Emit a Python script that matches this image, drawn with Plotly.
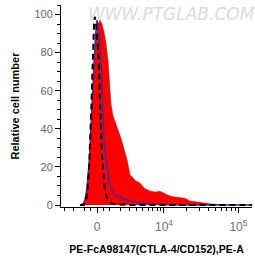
import math
import plotly.graph_objects as go

# ---- data (x in display units of a biexponential-like axis, y in % of max) ----
red_x = [-0.187, -0.160, -0.133, -0.120, -0.093, -0.067, -0.040, -0.013, 0.013, 0.040,
         0.067, 0.093, 0.120, 0.147, 0.173, 0.187, 0.213, 0.253, 0.293, 0.320,
         0.360, 0.400, 0.440, 0.507, 0.573, 0.640, 0.707, 0.773, 0.840, 0.907,
         0.973, 1.040, 1.107, 1.173, 1.240, 1.307, 1.373, 1.440, 1.507, 1.573,
         1.640, 1.707]
red_y = [0, 3, 8, 14, 29, 52, 76, 90, 95, 97,
         95, 91, 85, 76, 63, 53, 47, 43, 38, 35,
         29, 24, 16, 13, 11.5, 8.5, 7.4, 6.8, 7.2, 5.8,
         4.7, 4.2, 3.7, 3.5, 2.1, 1.6, 1.5, 1.0, 0.6, 0.3,
         0.1, 0]

blue_x = [-0.227, -0.187, -0.160, -0.133, -0.097, -0.067, -0.040, -0.020, 0.0, 0.027,
          0.053, 0.080, 0.093, 0.120, 0.137, 0.160, 0.187, 0.227, 0.280, 0.320,
          0.440, 0.573, 0.707, 0.840, 0.973, 1.107, 2.067]
blue_y = [0, 0.5, 2.6, 9, 26, 53, 76, 89, 97, 92,
          76, 53, 35, 24, 17.5, 12, 9, 5.8, 4.2, 3.7,
          2.1, 1.1, 0.5, 0.3, 0.1, 0, 0]

black_x = [-0.227, -0.173, -0.133, -0.107, -0.076, -0.053, -0.040, -0.031, -0.013, 0.023,
           0.040, 0.053, 0.067, 0.103, 0.133, 0.169, 0.213, 0.280, 0.333, 0.440, 2.067]
black_y = [0, 0, 5, 18, 50, 85, 95, 98.8, 96, 76,
           50, 39, 26, 9, 3.7, 1.6, 0.5, 0.3, 0, 0, 0]

major_vals = [0, 1e4, 1e5]
major_text = ["0", "10<sup>4</sup>", "10<sup>5</sup>"]
minor_vals = [-3000, -2000, -1000, -500, 500, 1000,
              2000, 3000, 4000, 5000, 6000, 7000, 8000, 9000,
              2e4, 3e4, 4e4, 5e4, 6e4, 7e4, 8e4, 9e4]

W = 2600.0


def xt(v):
    return math.asinh(v / W) / math.log(10)


fig = go.Figure()
fig.add_trace(go.Scatter(x=red_x, y=red_y, mode="lines", fill="tozeroy",
                         fillcolor="#ff0000", line=dict(color="#ff0000", width=0.5),
                         hoverinfo="skip", showlegend=False))
fig.add_trace(go.Scatter(x=blue_x, y=blue_y, mode="lines",
                         line=dict(color="#3b2f9e", width=1.5),
                         hoverinfo="skip", showlegend=False))
fig.add_trace(go.Scatter(x=black_x, y=black_y, mode="lines",
                         line=dict(color="#000000", width=2, dash="6px,4px"),
                         hoverinfo="skip", showlegend=False))

fig.update_layout(
    width=255, height=262,
    margin=dict(l=61, r=3, t=5, b=55),
    paper_bgcolor="white", plot_bgcolor="white",
    font=dict(family="Liberation Sans, Arial, sans-serif"),
    xaxis=dict(
        range=[-0.48, 2.067], showgrid=False, zeroline=False, automargin=False,
        showline=True, linecolor="black", linewidth=1,
        tickmode="array", tickvals=[xt(v) for v in major_vals], ticktext=major_text,
        ticks="outside", ticklen=5, tickcolor="black", ticklabelstandoff=4,
        tickfont=dict(size=12, color="#707070"),
        minor=dict(tickmode="array", tickvals=[xt(v) for v in minor_vals],
                   ticks="outside", ticklen=3, tickcolor="black", showgrid=False),
        title=dict(text="<b>PE-FcA98147(CTLA-4/CD152),PE-A</b>",
                   font=dict(size=10.5, color="black"), standoff=12),
    ),
    yaxis=dict(
        range=[-1.05, 105], showgrid=False, zeroline=False, automargin=False,
        showline=True, linecolor="black", linewidth=1,
        tickmode="array", tickvals=[0, 20, 40, 60, 80, 100],
        ticks="outside", ticklen=5, tickcolor="black",
        tickfont=dict(size=11, color="#666666"),
        minor=dict(dtick=5, tick0=0, ticks="outside", ticklen=3,
                   tickcolor="black", showgrid=False),
        title=dict(text="<b>Relative cell number</b>",
                   font=dict(size=11, color="black"), standoff=12),
    ),
    annotations=[dict(text="WWW.PTGLAB.COM", xref="paper", yref="paper",
                      x=0.58, y=1.015, yanchor="top", showarrow=False,
                      font=dict(size=17, color="#dcdcdc", family="DejaVu Sans", style="italic"))],
)

fig.write_html("out.html", config={"displayModeBar": False},
               post_script="document.body.style.margin='0';document.body.style.padding='0';")
